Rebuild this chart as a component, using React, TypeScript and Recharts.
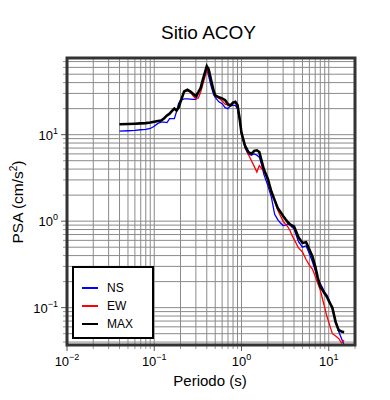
import { LineChart, Line, XAxis, YAxis, CartesianGrid } from 'recharts';

const PERIODS = [
  0.04, 0.05, 0.06, 0.07, 0.08, 0.09, 0.1, 0.11, 0.12, 0.13, 0.14, 0.15, 0.16, 0.17, 0.18, 0.19,
  0.2, 0.22, 0.24, 0.26, 0.28, 0.3, 0.32, 0.34, 0.36, 0.38, 0.4, 0.42, 0.45, 0.48, 0.5, 0.55,
  0.6, 0.65, 0.7, 0.75, 0.8, 0.85, 0.9, 0.95, 1.0, 1.1, 1.2, 1.3, 1.4, 1.5, 1.6, 1.7, 1.8, 1.9,
  2.0, 2.2, 2.4, 2.6, 2.8, 3.0, 3.2, 3.4, 3.6, 3.8, 4.0, 4.5, 5, 5.5, 6, 6.5, 7, 7.5, 8, 8.5,
  9, 9.5, 10, 11, 12, 13, 14, 15,
];

const NS = [
  11.0, 11.1, 11.2, 11.4, 11.5, 11.8, 12.5, 13.5, 14, 14, 13.8, 15.3, 15.3, 15.3, 18.5, 23,
  25, 26, 26, 25.8, 25.6, 25.6, 30, 35, 42, 52, 58, 48, 36, 29, 27, 24,
  22.8, 20.5, 20, 21.8, 21.8, 21.8, 20, 15, 10.5, 7.0, 5.9, 5.8, 6.0, 5.8, 5.5, 4.5, 3.5, 3.0,
  2.6, 1.9, 1.2, 1.04, 0.95, 0.89, 0.9, 0.93, 0.9, 0.85, 0.82, 0.58, 0.5, 0.52, 0.42, 0.34, 0.27, 0.21, 0.19, 0.17,
  0.15, 0.14, 0.125, 0.097, 0.07, 0.053, 0.044, 0.037,
];

const EW = [
  13.2, 13.3, 13.4, 13.5, 13.6, 13.8, 14.1, 14.4, 14.6, 15.5, 16.7, 17.5, 18.8, 20, 19, 20.5,
  24, 31, 32.5, 31, 28, 26, 26.5, 31, 38, 46, 55, 53, 40, 32, 28, 26.5,
  24.5, 22.5, 22, 21.5, 23, 23.8, 21.5, 16, 10, 7.2, 5.9, 5.0, 4.3, 3.7, 4.4, 4.05, 3.8, 3.4,
  3.0, 2.1, 1.7, 1.35, 1.15, 1.0, 0.92, 0.86, 0.78, 0.68, 0.62, 0.49, 0.44, 0.36, 0.31, 0.28, 0.23, 0.19, 0.16, 0.125,
  0.1, 0.08, 0.068, 0.05, 0.047, 0.044, 0.039, 0.042,
];

const MAX = [
  13.2, 13.3, 13.4, 13.5, 13.6, 13.8, 14.1, 14.4, 14.6, 15.5, 16.7, 17.5, 18.8, 20, 19, 20.5,
  24, 31.7, 33, 31.5, 29.5, 28, 31, 34.5, 43, 52, 62, 57, 42, 32, 28.5, 27,
  26.3, 25, 22.5, 21.8, 23.5, 24, 22, 15.5, 10.5, 7.4, 6.3, 6.0, 6.5, 6.6, 6.3, 5.0, 4.0, 3.5,
  3.1, 2.2, 1.75, 1.42, 1.28, 1.15, 1.05, 0.97, 0.92, 0.89, 0.87, 0.65, 0.56, 0.57, 0.47, 0.39, 0.3, 0.22, 0.175, 0.16,
  0.145, 0.135, 0.12, 0.1, 0.068, 0.055, 0.053, 0.052,
];

const X_TICKS = [
  0.01, 0.02, 0.03, 0.04, 0.05, 0.06, 0.07, 0.08, 0.09,
  0.1, 0.2, 0.3, 0.4, 0.5, 0.6, 0.7, 0.8, 0.9,
  1, 2, 3, 4, 5, 6, 7, 8, 9,
  10, 20,
];

const Y_TICKS = [
  0.04, 0.05, 0.06, 0.07, 0.08, 0.09,
  0.1, 0.2, 0.3, 0.4, 0.5, 0.6, 0.7, 0.8, 0.9,
  1, 2, 3, 4, 5, 6, 7, 8, 9,
  10, 20, 30, 40, 50, 60, 70,
];

const data = PERIODS.map((t, i) => ({ t, ns: NS[i], ew: EW[i], max: MAX[i] }));

const FONT = '"Liberation Sans", Arial, Helvetica, sans-serif';

function decade(v: number) {
  const e = Math.round(Math.log10(v));
  return { e, major: Math.abs(Math.log10(v) - e) < 1e-6 };
}

function expText(e: number) {
  return e < 0 ? '\u2212' + -e : String(e);
}

function XTick({ x, y, payload }: any) {
  const { e, major } = decade(payload.value);
  return (
    <g>
      <line x1={x} x2={x} y1={y + 1} y2={y + (major ? 6 : 4)} stroke={major ? '#555' : '#999'} />
      {major && (
        <text x={x} y={y + 21} textAnchor="middle" fontSize={13} fill="#000" fontFamily={FONT}>
          10<tspan dy={-6} fontSize={9}>{expText(e)}</tspan>
        </text>
      )}
    </g>
  );
}

function YTick({ x, y, payload }: any) {
  const { e, major } = decade(payload.value);
  return (
    <g>
      <line x1={x - 1} x2={x - (major ? 6 : 4)} y1={y} y2={y} stroke={major ? '#555' : '#999'} />
      {major && (
        <text x={x - 9} y={y + 5} textAnchor="end" fontSize={13} fill="#000" fontFamily={FONT}>
          10<tspan dy={-6} fontSize={9}>{expText(e)}</tspan>
        </text>
      )}
    </g>
  );
}

export default function App() {
  return (
    <div style={{ position: 'absolute', left: 0, top: 0, width: 390, height: 400, background: '#fff', fontFamily: FONT }}>
      <LineChart width={390} height={400} data={data} margin={{ top: 58, right: 35, bottom: 25, left: 17 }}>
        <CartesianGrid stroke="#8a8a8a" strokeWidth={1} />
        <XAxis
          dataKey="t"
          type="number"
          scale="log"
          domain={[0.01, 20]}
          allowDataOverflow
          ticks={X_TICKS}
          interval={0}
          height={30}
          axisLine={false}
          tickLine={false}
          tickSize={0}
          tickMargin={0}
          tick={<XTick />}
        />
        <YAxis
          type="number"
          scale="log"
          domain={[0.037, 77]}
          allowDataOverflow
          ticks={Y_TICKS}
          interval={0}
          width={50}
          axisLine={false}
          tickLine={false}
          tickSize={0}
          tickMargin={0}
          tick={<YTick />}
        />
        <Line dataKey="ns" stroke="#0000ff" strokeWidth={1.3} dot={false} isAnimationActive={false} />
        <Line dataKey="ew" stroke="#ff0000" strokeWidth={1.3} dot={false} isAnimationActive={false} />
        <Line dataKey="max" stroke="#000" strokeWidth={2.6} dot={false} isAnimationActive={false} />
      </LineChart>
      <svg width={390} height={400} style={{ position: 'absolute', left: 0, top: 0, pointerEvents: 'none' }}>
        <rect x={67} y={58} width={288} height={287} fill="none" stroke="#333" strokeWidth={3} />
        <text x={208.5} y={39} textAnchor="middle" fontSize={19} fontFamily={FONT}>Sitio ACOY</text>
        <text x={210} y={386} textAnchor="middle" fontSize={15} fontFamily={FONT}>Periodo (s)</text>
        <text x={23} y={202} textAnchor="middle" fontSize={15.5} fontFamily={FONT} transform="rotate(-90 23 202)">
          PSA (cm/s<tspan dy={-6} fontSize={10}>2</tspan><tspan dy={6}>)</tspan>
        </text>
        <g fontFamily={FONT} fontSize={12}>
          <rect x={73} y={267} width={80} height={71} fill="#fff" stroke="#000" strokeWidth={2} />
          <line x1={82} x2={98} y1={288} y2={288} stroke="#0000ff" strokeWidth={2} />
          <text x={107} y={292}>NS</text>
          <line x1={82} x2={98} y1={306} y2={306} stroke="#ff0000" strokeWidth={2} />
          <text x={107} y={310}>EW</text>
          <line x1={82} x2={98} y1={324} y2={324} stroke="#000" strokeWidth={2} />
          <text x={107} y={328}>MAX</text>
        </g>
      </svg>
    </div>
  );
}
